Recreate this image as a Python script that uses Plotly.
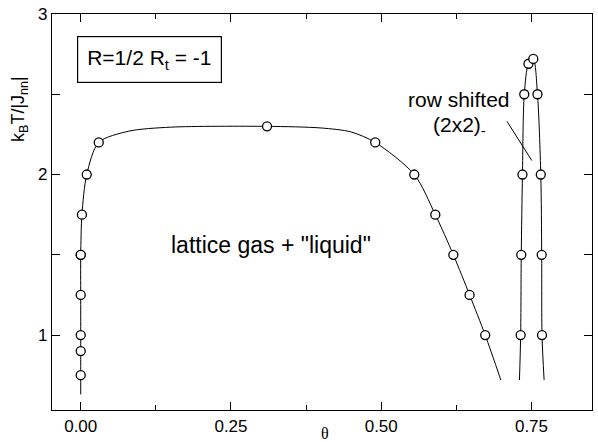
import plotly.graph_objects as go

# Measured data points (open circles)
lg_theta = [0.0, 0.0, 0.0, 0.0, 0.0, 0.0, 0.002, 0.01, 0.03, 0.31, 0.49, 0.555, 0.59, 0.62, 0.647, 0.673]
lg_T = [0.75, 0.9, 1.0, 1.25, 1.5, 1.5, 1.75, 2.0, 2.2, 2.3, 2.2, 2.0, 1.75, 1.5, 1.25, 1.0]

rs_theta = [0.732, 0.733, 0.735, 0.738, 0.745, 0.753, 0.760, 0.7655, 0.767, 0.7675]
rs_T = [1.0, 1.5, 2.0, 2.5, 2.69, 2.72, 2.5, 2.0, 1.5, 1.0]

# Guide-to-the-eye curves
lg_curve_theta = [0.0, 0.0, 0.0, 0.0, 0.0, 0.0, 0.002, 0.01, 0.03, 0.08, 0.15, 0.31, 0.40, 0.45, 0.49, 0.555, 0.59, 0.62, 0.647, 0.673, 0.699]
lg_curve_T = [0.63, 0.75, 0.9, 1.0, 1.25, 1.5, 1.75, 2.0, 2.2, 2.27, 2.295, 2.3, 2.29, 2.265, 2.2, 2.0, 1.75, 1.5, 1.25, 1.0, 0.72]

rs_curve_theta = [0.730, 0.732, 0.733, 0.735, 0.738, 0.745, 0.753, 0.760, 0.7655, 0.767, 0.7675, 0.771]
rs_curve_T = [0.72, 1.0, 1.5, 2.0, 2.5, 2.69, 2.72, 2.5, 2.0, 1.5, 1.0, 0.72]

x_ticks = [0.0, 0.25, 0.5, 0.75]
x_ticklabels = ["0.00", "0.25", "0.50", "0.75"]
y_ticks = [1, 1.5, 2, 2.5, 3]
y_ticklabels = ["1", "", "2", "", "3"]

FONT = "Liberation Sans, Arial, sans-serif"

# plot area in pixels
L, R, T, B = 52, 592, 14, 410
W, H = R - L, B - T


def px(xp):
    return (xp - L) / W


def py(yp):
    return (B - yp) / H


fig = go.Figure()
fig.add_trace(go.Scatter(x=lg_curve_theta, y=lg_curve_T, mode="lines",
                         line=dict(color="black", width=1, shape="spline", smoothing=0.8),
                         hoverinfo="skip", showlegend=False))
fig.add_trace(go.Scatter(x=rs_curve_theta, y=rs_curve_T, mode="lines",
                         line=dict(color="black", width=1, shape="spline", smoothing=0.8),
                         hoverinfo="skip", showlegend=False))
fig.add_trace(go.Scatter(x=lg_theta, y=lg_T, mode="markers",
                         marker=dict(symbol="circle", size=9, color="white",
                                     line=dict(color="black", width=1.3)),
                         showlegend=False))
fig.add_trace(go.Scatter(x=rs_theta, y=rs_T, mode="markers",
                         marker=dict(symbol="circle", size=9, color="white",
                                     line=dict(color="black", width=1.3)),
                         showlegend=False))

axis_common = dict(showline=True, linecolor="black", linewidth=1.4, mirror="allticks",
                   ticks="inside", tickcolor="black", showgrid=False, zeroline=False,
                   automargin=False,
                   tickfont=dict(family=FONT, size=17, color="black"))

fig.update_xaxes(range=[-0.0478, 0.8507], tickvals=x_ticks, ticktext=x_ticklabels,
                 ticklen=8, tickwidth=1.3,
                 minor=dict(dtick=0.125, tick0=0, ticklen=5, ticks="inside",
                            tickcolor="black", tickwidth=1.3, showgrid=False),
                 **axis_common)
fig.update_yaxes(range=[0.533, 3.0], tickvals=y_ticks, ticktext=y_ticklabels,
                 ticklen=8, tickwidth=1.3, **axis_common)

# Boxed parameter label
fig.add_annotation(x=px(149), y=py(59.5), xref="paper", yref="paper", showarrow=False,
                   text="R=1/2 R<sub>t</sub> = -1", font=dict(family=FONT, size=21, color="black"),
                   xanchor="center", yanchor="middle", bordercolor="black", borderwidth=1.2,
                   borderpad=9, bgcolor="white")

fig.add_annotation(x=0.316, y=1.56, text='lattice gas + "liquid"', showarrow=False,
                   font=dict(family=FONT, size=23, color="black"))
fig.add_annotation(x=0.6295, y=2.467, text="row shifted", showarrow=False,
                   font=dict(family=FONT, size=21, color="black"))
fig.add_annotation(x=0.6295, y=2.30, text="(2x2)<sub>-</sub>", showarrow=False,
                   font=dict(family=FONT, size=21, color="black"))
fig.add_annotation(x=0.7506, y=2.087, ax=0.7077, ay=2.34, axref="x", ayref="y",
                   text="", showarrow=True, arrowhead=0, arrowwidth=1, arrowcolor="black")

fig.add_annotation(x=px(19), y=py(109), xref="paper", yref="paper",
                   text="k<sub>B</sub>T/|J<sub>nn</sub>|", showarrow=False, textangle=-90,
                   xanchor="center", yanchor="middle",
                   font=dict(family=FONT, size=18, color="black"))
fig.add_annotation(x=px(325), y=py(433), xref="paper", yref="paper",
                   text="θ", showarrow=False, xanchor="center", yanchor="middle",
                   font=dict(family="Liberation Serif, DejaVu Serif, serif", size=16, color="black"))

fig.update_layout(width=598, height=442,
                  margin=dict(l=L, r=598 - R, t=T, b=442 - B, autoexpand=False),
                  plot_bgcolor="white", paper_bgcolor="white", showlegend=False)

fig.write_html("out.html", config={"displayModeBar": False},
               post_script="document.body.style.margin='0';document.body.style.overflow='hidden';")
